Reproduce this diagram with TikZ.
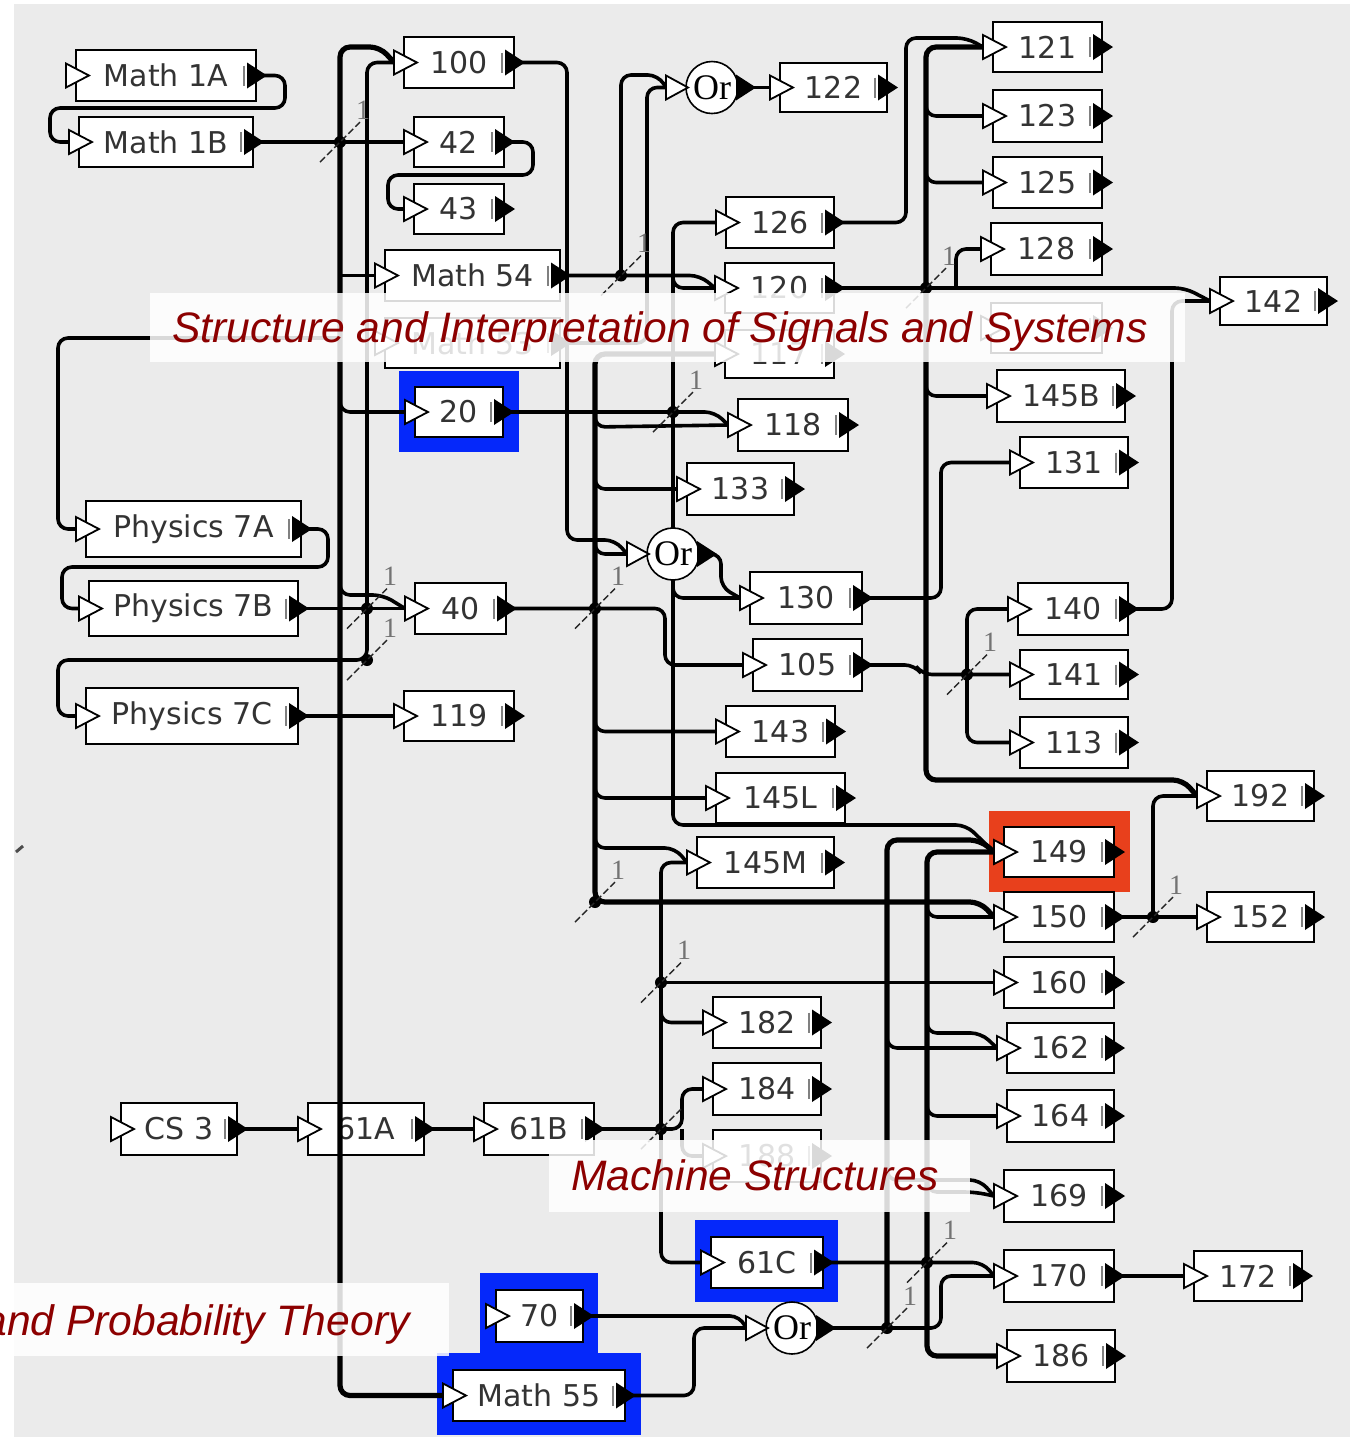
\documentclass[tikz,border=0pt]{standalone}
\usepackage{fontspec}
\newfontfamily\boxfont{DejaVu Sans}
\newfontfamily\banfont{Liberation Sans}
\newfontfamily\orfont{Liberation Serif}
\usetikzlibrary{calc}
\definecolor{bg}{RGB}{235,235,235}
\definecolor{hblue}{RGB}{5,40,250}
\definecolor{hred}{RGB}{232,64,28}
\definecolor{bantext}{RGB}{140,0,0}
\newcommand\course[6]{%
  \pgfmathsetmacro\crsw{(#4-#2)*0.5}%
  \pgfmathsetmacro\crsh{(#5-#3)*0.5}%
  \node[cbox, minimum width=\crsw pt, minimum height=\crsh pt] (#1) at ({(#2+#4)/2},{(#3+#5)/2}) {#6};
  \coordinate (#1-in) at ({#2-10},{(#3+#5)/2});
  \coordinate (#1-out) at ({#4+8},{(#3+#5)/2});
}
\newcommand\ports[1]{%
  \filldraw[fill=white,draw=black,line width=0.9pt] ($(#1-in)+(0,-12)$) -- ($(#1-in)+(23,0)$) -- ($(#1-in)+(0,12)$) -- cycle;
  \fill[black] ($(#1-out)+(-17,-13)$) -- ($(#1-out)+(3,0)$) -- ($(#1-out)+(-17,13)$) -- cycle;
  \draw[black!50,line width=0.6pt] ($(#1-out)+(-20,-10)$) -- ($(#1-out)+(-20,10)$);
}
\newcommand\orgate[3]{% name, x, y
  \coordinate (#1) at (#2,#3);
  \coordinate (#1-in) at ({#2-46},#3);
  \coordinate (#1-out) at ({#2+41},#3);
}
\newcommand\drawor[1]{%
  \node[orc] (#1c) at (#1) {Or};
  \filldraw[fill=white,draw=black,line width=0.9pt] ($(#1)+(-46,-12)$) -- ($(#1)+(-24,0)$) -- ($(#1)+(-46,12)$) -- cycle;
  \fill[black] ($(#1)+(24,-13)$) -- ($(#1)+(44,0)$) -- ($(#1)+(24,13)$) -- cycle;
}
\newcommand\junc[2]{% name, label
  \fill[black] (#1) circle (6);
  \draw[black!85,line width=0.7pt,dash pattern=on 3.5pt off 1.5pt] ($(#1)+(-20,20)$) -- ($(#1)+(20,-20)$);
  \node[lbl] at ($(#1)+(23,-32)$) {#2};
}
\begin{document}
\begin{tikzpicture}[x=0.5pt,y=-0.5pt,
  conn/.style={line width=1.8pt, rounded corners=5pt},
  bus/.style={line width=2.6pt, rounded corners=5pt},
  cbox/.style={draw=black, line width=1pt, fill=white, inner sep=0pt, text=black!80, font={\boxfont\fontsize{15}{18}\selectfont}},
  orc/.style={ellipse-free/.style={}, circle, draw=black, line width=0.8pt, fill=white, minimum size=26pt, inner sep=0pt, font={\orfont\fontsize{18}{20}\selectfont}},
  lbl/.style={text=black!55, inner sep=0pt, font={\orfont\fontsize{14}{16}\selectfont}},
  banner/.style={fill=white, opacity=0.85},
  bantxt/.style={text=bantext, inner sep=0pt, font={\banfont\itshape\fontsize{21.3}{24}\selectfont}}
]
\useasboundingbox (0,0) rectangle (1355,1437);
\fill[white] (0,0) rectangle (1355,1437);
\fill[bg] (14,4) rectangle (1350,1437);

% highlights
\fill[hblue] (399,371) rectangle (519,452);
\fill[hblue] (695,1220) rectangle (838,1302);
\fill[hblue] (480,1273) rectangle (598,1356);
\fill[hblue] (437,1353) rectangle (641,1435);
\fill[hred] (989,811) rectangle (1130,892);

% boxes
\course{m1a}{76}{50}{256}{101}{Math 1A}
\course{m1b}{79}{117}{253}{167}{Math 1B}
\course{c100}{404}{37}{514}{88}{100}
\course{c42}{414}{117}{504}{167}{42}
\course{c43}{414}{184}{504}{234}{43}
\course{m54}{385}{250}{560}{301}{Math 54}
\course{m53}{385}{318}{560}{368}{Math 53}
\course{c20}{415}{387}{503}{437}{20}
\course{p7a}{86}{501}{301}{557}{Physics 7A}
\course{p7b}{89}{581}{298}{636}{Physics 7B}
\course{c40}{415}{583}{506}{634}{40}
\course{p7c}{86}{688}{298}{744}{Physics 7C}
\course{c119}{404}{691}{514}{741}{119}
\course{cs3}{121}{1103}{237}{1155}{CS 3}
\course{c61a}{308}{1103}{424}{1155}{61A}
\course{c61b}{484}{1103}{594}{1155}{61B}
\course{c70}{496}{1290}{583}{1342}{70}
\course{m55}{453}{1370}{625}{1421}{Math 55}
\course{c122}{780}{63}{887}{112}{122}
\course{c126}{726}{197}{834}{248}{126}
\course{c120}{725}{263}{834}{313}{120}
\course{c117}{725}{330}{834}{378}{117}
\course{c118}{738}{399}{848}{451}{118}
\course{c133}{687}{463}{794}{515}{133}
\course{c130}{750}{572}{862}{624}{130}
\course{c105}{753}{639}{862}{691}{105}
\course{c143}{726}{706}{835}{757}{143}
\course{c145L}{716}{773}{845}{823}{145L}
\course{c145M}{697}{837}{834}{888}{145M}
\course{c182}{713}{997}{821}{1048}{182}
\course{c184}{713}{1063}{821}{1115}{184}
\course{c188}{713}{1130}{821}{1182}{188}
\course{c61c}{711}{1237}{823}{1288}{61C}
\course{c121}{993}{22}{1102}{72}{121}
\course{c123}{993}{90}{1102}{142}{123}
\course{c125}{993}{157}{1102}{208}{125}
\course{c128}{991}{223}{1102}{275}{128}
\course{chid}{991}{303}{1102}{353}{}
\course{c142}{1220}{277}{1327}{325}{142}
\course{c145B}{997}{370}{1125}{422}{145B}
\course{c131}{1020}{437}{1128}{488}{131}
\course{c140}{1018}{583}{1128}{635}{140}
\course{c141}{1020}{650}{1128}{699}{141}
\course{c113}{1020}{717}{1128}{768}{113}
\course{c192}{1207}{771}{1314}{821}{192}
\course{c149}{1004}{827}{1114}{877}{149}
\course{c150}{1004}{892}{1114}{942}{150}
\course{c152}{1207}{892}{1314}{942}{152}
\course{c160}{1004}{957}{1114}{1008}{160}
\course{c162}{1007}{1023}{1114}{1073}{162}
\course{c164}{1007}{1090}{1114}{1142}{164}
\course{c169}{1004}{1170}{1114}{1222}{169}
\course{c170}{1004}{1250}{1114}{1302}{170}
\course{c172}{1194}{1251}{1302}{1301}{172}
\course{c186}{1007}{1330}{1115}{1382}{186}

\orgate{orA}{712}{87.5}
\orgate{orB}{673}{554}
\orgate{orC}{792}{1328}

% junctions
\coordinate (J1) at (340,142);
\coordinate (J2) at (621,275.5);
\coordinate (J3) at (926,288);
\coordinate (J4) at (673,412);
\coordinate (J5) at (367,608.5);
\coordinate (J6) at (367,660);
\coordinate (J7) at (595,608.5);
\coordinate (J8) at (967,674.5);
\coordinate (J9) at (595,902);
\coordinate (J10) at (1153,917);
\coordinate (J11) at (661,982.5);
\coordinate (J12) at (661,1129);
\coordinate (J13) at (927,1262.5);
\coordinate (J14) at (887,1328);

% connectors
\draw[conn] (m1a-out) -- (285,75.5) -- (285,108) -- (50,108) -- (50,142) -- (m1b-in);
\draw[conn] (m1b-out) -- (J1) -- (c42-in);
\draw[bus] (c100-in) -- (380,47) -- (340,47) -- (340,1395.5) -- (m55-in);
\draw[conn] (340,275.5) -- (m54-in);
\draw[conn] (340,390) -- (340,412) -- (c20-in);
\draw[conn] (340,572) -- (340,595) -- (383,595) -- (c40-in);
\draw[conn] (340,338) -- (58,338) -- (58,529) -- (p7a-in);
\draw[conn] (c42-out) -- (533,142) -- (533,175) -- (388,175) -- (388,209) -- (c43-in);
\draw[conn] (c100-out) -- (567,62.5) -- (567,540) -- (615,540) -- (orB-in);
\draw[conn] (c100-in) -- (367,62.5) -- (J5) -- (J6) -- (58,660) -- (58,716) -- (p7c-in);
\draw[conn] (p7a-out) -- (328,529) -- (328,567) -- (62,567) -- (62,608.5) -- (p7b-in);
\draw[conn] (p7b-out) -- (J5) -- (c40-in);
\draw[conn] (p7c-out) -- (c119-in);
\draw[conn] (c40-out) -- (J7) -- (665,608.5) -- (665,665) -- (c105-in);
\draw[bus] (c117-in) -- (595,354) -- (J9) -- (980,902) -- (c150-in);
\draw[conn] (595,405) -- (595,427) -- (c118-in);
\draw[conn] (595,468) -- (595,489) -- (c133-in);
\draw[conn] (595,533) -- (595,554) -- (orB-in);
\draw[conn] (595,710) -- (595,731.5) -- (c143-in);
\draw[conn] (595,776) -- (595,798) -- (c145L-in);
\draw[conn] (595,826) -- (595,848) -- (675,848) -- (c145M-in);
\draw[conn] (c20-out) -- (J4) -- (715,412) -- (c118-in);
\draw[conn] (c126-in) -- (673,222.5) -- (673,825) -- (966,825) -- (c149-in);
\draw[conn] (673,268) -- (673,288) -- (c120-in);
\draw[conn] (673,578) -- (673,598) -- (c130-in);
\draw[conn] (m54-out) -- (J2) -- (700,275.5) -- (c120-in);
\draw[conn] (J2) -- (621,75) -- (658,75) -- (orA-in);
\draw[conn] (m53-out) -- (647,343) -- (647,87.5) -- (orA-in);
\draw[conn] (orA-out) -- (c122-in);
\draw[conn] (orB-out) -- (721,554) -- (721,587) -- (c130-in);
\draw[conn] (c130-out) -- (941,598) -- (941,462.5) -- (c131-in);
\draw[conn] (c105-out) -- (915,665) -- (922,674.5) -- (J8) -- (c141-in);
\draw[conn] (c140-in) -- (967,609) -- (967,742.5) -- (c113-in);
\draw[conn] (c120-out) -- (J3) -- (1185,288) -- (c142-in);
\draw[conn] (956,288) -- (956,249) -- (c128-in);
\draw[bus] (c121-in) -- (926,47) -- (926,780) -- (1183,780) -- (c192-in);
\draw[conn] (926,96) -- (926,116) -- (c123-in);
\draw[conn] (926,162) -- (926,182.5) -- (c125-in);
\draw[conn] (926,376) -- (926,396) -- (c145B-in);
\draw[conn] (c126-out) -- (906,222.5) -- (906,38) -- (967,38) -- (c121-in);
\draw[conn] (c140-out) -- (1172,609) -- (1172,301) -- (c142-in);
\draw[conn] (c150-out) -- (J10) -- (c152-in);
\draw[conn] (J10) -- (1153,796) -- (c192-in);
\draw[conn] (c61c-out) -- (J13) -- (983,1262.5) -- (c170-in);
\draw[bus] (c149-in) -- (927,852) -- (927,1356) -- (c186-in);
\draw[conn] (927,895) -- (927,917) -- (c150-in);
\draw[conn] (927,1013) -- (927,1033) -- (981,1033) -- (c162-in);
\draw[conn] (927,1096) -- (927,1116) -- (c164-in);
\draw[conn] (927,1172) -- (927,1192) -- (975,1192) -- (c169-in);
\draw[conn] (orC-out) -- (J14) -- (941,1328) -- (941,1276) -- (c170-in);
\draw[bus] (J14) -- (887,840) -- (980,840) -- (c149-in);
\draw[conn] (887,1028) -- (887,1048) -- (c162-in);
\draw[conn] (887,1160) -- (887,1180) -- (980,1180) -- (c169-in);
\draw[conn] (c70-out) -- (740,1316) -- (orC-in);
\draw[conn] (m55-out) -- (694,1395.5) -- (694,1328) -- (orC-in);
\draw[conn] (c170-out) -- (c172-in);
\draw[conn] (cs3-out) -- (c61a-in);
\draw[conn] (c61a-out) -- (c61b-in);
\draw[conn] (c61b-out) -- (J12) -- (682,1129) -- (682,1089) -- (c184-in);
\draw[conn] (682,1129) -- (682,1156) -- (c188-in);
\draw[conn] (c145M-in) -- (661,862.5) -- (J11) -- (J12) -- (661,1262.5) -- (c61c-in);
\draw[conn] (J11) -- (c160-in);
\draw[conn] (661,1002) -- (661,1022.5) -- (c182-in);

% ports
\foreach \n in {m1a,m1b,c100,c42,c43,m54,m53,c20,p7a,p7b,c40,p7c,c119,cs3,c61a,c61b,c70,m55,c122,c126,c120,c117,c118,c133,c130,c105,c143,c145L,c145M,c182,c184,c188,c61c,c121,c123,c125,c128,chid,c142,c145B,c131,c140,c141,c113,c192,c149,c150,c152,c160,c162,c164,c169,c170,c172,c186}{\ports{\n}}
\drawor{orA}
\drawor{orB}
\drawor{orC}

% junction marks
\junc{J1}{1}
\junc{J2}{1}
\junc{J3}{1}
\junc{J4}{1}
\junc{J5}{1}
\junc{J6}{1}
\junc{J7}{1}
\junc{J8}{1}
\junc{J9}{1}
\junc{J10}{1}
\junc{J11}{1}
\junc{J12}{}
\junc{J13}{1}
\junc{J14}{1}

\draw[black!70,line width=1.5pt] (16,852) -- (23,846);

% banners
\fill[banner] (150,293) rectangle (1185,362);
\node[bantxt, anchor=base] (t1) at (660,342) {Structure and Interpretation of Signals and Systems};
\fill[banner] (549,1140) rectangle (970,1212);
\node[bantxt, anchor=base] (t2) at (755,1190) {Machine Structures};
\fill[banner] (13,1283) rectangle (449,1356);
\node[bantxt, anchor=base east] (t3) at (410,1335) {and Probability Theory};
\end{tikzpicture}
\end{document}
